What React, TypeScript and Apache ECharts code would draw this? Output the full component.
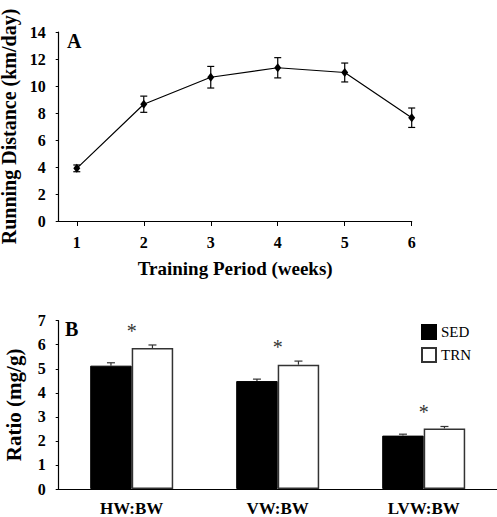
import React, { useEffect, useRef } from "react";
import * as echarts from "echarts";

// Panel A: running distance per training week
const weeks = [1, 2, 3, 4, 5, 6];
const distance = [3.9, 8.65, 10.65, 11.35, 11.0, 7.65];
const distanceErr = [0.25, 0.6, 0.8, 0.75, 0.7, 0.72];
const distanceTicks = [0, 2, 4, 6, 8, 10, 12, 14];

// Panel B: organ weight ratios
const ratioCategories = ["HW:BW", "VW:BW", "LVW:BW"];
const sedValues = [5.13, 4.49, 2.22];
const sedErr = [0.12, 0.08, 0.06];
const trnValues = [5.86, 5.17, 2.52];
const trnErr = [0.13, 0.15, 0.08];
const significant = [true, true, true];

const FONT = "Liberation Serif";
const BAR_W = 41.5;

export default function App() {
  const ref = useRef<HTMLDivElement>(null);

  useEffect(() => {
    if (!ref.current) return;
    const chart = echarts.init(ref.current, undefined, { renderer: "svg" });

    const lineData = weeks.map((w, i) => [w, distance[i]]);
    const lineErrData = weeks.map((w, i) => [w, distance[i], distanceErr[i]]);
    const sedErrData = ratioCategories.map((_, i) => [i, sedValues[i], sedErr[i], -1]);
    const trnErrData = ratioCategories.map((_, i) => [i, trnValues[i], trnErr[i], 1]);
    const starData = ratioCategories
      .map((_, i) => [i, Math.max(trnValues[i] + trnErr[i], sedValues[i] + sedErr[i]), significant[i] ? 1 : 0])
      .filter((d) => d[2] === 1);

    const axisLine = { show: true, lineStyle: { color: "#000", width: 1.2 } };

    const option: any = {
      animation: false,
      backgroundColor: "#fff",
      textStyle: { fontFamily: FONT, color: "#000", fontSize: 16 },
      grid: [
        { left: 58.7, top: 32, right: 85.3, bottom: 296, containLabel: false, outerBoundsMode: "none" },
        { left: 58.7, top: 320.7, right: 0.3, bottom: 28, containLabel: false, outerBoundsMode: "none" },
      ],
      xAxis: [
        {
          type: "value",
          gridIndex: 0,
          min: 0.73,
          max: 6,
          axisLine,
          splitLine: { show: false },
          axisTick: { show: true, length: 5, lineStyle: { color: "#000" }, customValues: weeks },
          axisLabel: {
            color: "#000",
            fontSize: 16,
            fontWeight: "bold",
            fontFamily: FONT,
            margin: 13,
            customValues: weeks,
          },
          name: "Training Period (weeks)",
          nameLocation: "middle",
          nameGap: 38,
          nameTextStyle: { fontSize: 19, fontWeight: "bold", fontFamily: FONT, color: "#000" },
        },
        {
          type: "category",
          gridIndex: 1,
          data: ratioCategories,
          axisLine,
          axisTick: { show: false },
          axisLabel: { color: "#000", fontSize: 17, fontWeight: "bold", fontFamily: FONT, margin: 11 },
        },
      ],
      yAxis: [
        {
          type: "value",
          gridIndex: 0,
          min: distanceTicks[0],
          max: distanceTicks[distanceTicks.length - 1],
          interval: 2,
          axisLine,
          splitLine: { show: false },
          axisTick: { show: true, length: 3, lineStyle: { color: "#000" } },
          axisLabel: { color: "#000", fontSize: 16, fontWeight: "bold", fontFamily: FONT, margin: 13 },
          name: "Running Distance (km/day)",
          nameLocation: "middle",
          nameGap: 34,
          nameTextStyle: { fontSize: 20, fontWeight: "bold", fontFamily: FONT, color: "#000" },
        },
        {
          type: "value",
          gridIndex: 1,
          min: 0,
          max: 7,
          interval: 1,
          axisLine,
          splitLine: { show: false },
          axisTick: { show: true, length: 3, lineStyle: { color: "#000" } },
          axisLabel: { color: "#000", fontSize: 16, fontWeight: "bold", fontFamily: FONT, margin: 13 },
          name: "Ratio (mg/g)",
          nameLocation: "middle",
          nameGap: 34,
          nameTextStyle: { fontSize: 21, fontWeight: "bold", fontFamily: FONT, color: "#000" },
        },
      ],
      legend: {
        data: ["SED", "TRN"],
        orient: "vertical",
        left: 416,
        top: 319,
        itemWidth: 14,
        itemHeight: 14,
        itemGap: 7,
        icon: "rect",
        textStyle: { fontSize: 15, fontFamily: FONT, color: "#000" },
      },
      graphic: [
        { type: "text", left: 67, top: 31, style: { text: "A", fontSize: 20, fontWeight: "bold", fontFamily: FONT, fill: "#000" } },
        { type: "text", left: 65, top: 319, style: { text: "B", fontSize: 20, fontWeight: "bold", fontFamily: FONT, fill: "#000" } },
      ],
      series: [
        {
          type: "line",
          name: "Distance",
          xAxisIndex: 0,
          yAxisIndex: 0,
          data: lineData,
          symbol: "diamond",
          symbolSize: [7, 9],
          itemStyle: { color: "#000" },
          lineStyle: { color: "#000", width: 1.2 },
          z: 3,
        },
        {
          type: "custom",
          name: "DistanceErr",
          xAxisIndex: 0,
          yAxisIndex: 0,
          data: lineErrData,
          z: 2,
          renderItem: (params: any, api: any) => {
            const x = api.value(0);
            const y = api.value(1);
            const e = api.value(2);
            const top = api.coord([x, y + e]);
            const bot = api.coord([x, y - e]);
            const cw = 3.5;
            const st = { stroke: "#000", lineWidth: 1.2 };
            return {
              type: "group",
              children: [
                { type: "line", shape: { x1: top[0], y1: top[1], x2: bot[0], y2: bot[1] }, style: st },
                { type: "line", shape: { x1: top[0] - cw, y1: top[1], x2: top[0] + cw, y2: top[1] }, style: st },
                { type: "line", shape: { x1: bot[0] - cw, y1: bot[1], x2: bot[0] + cw, y2: bot[1] }, style: st },
              ],
            };
          },
        },
        {
          type: "bar",
          name: "SED",
          xAxisIndex: 1,
          yAxisIndex: 1,
          data: sedValues,
          barWidth: BAR_W,
          barGap: "0%",
          itemStyle: { color: "#000", borderColor: "#000", borderWidth: 1 },
        },
        {
          type: "bar",
          name: "TRN",
          xAxisIndex: 1,
          yAxisIndex: 1,
          data: trnValues,
          barWidth: BAR_W,
          barGap: "0%",
          itemStyle: { color: "#fff", borderColor: "#333", borderWidth: 1.5 },
        },
        ...[sedErrData, trnErrData].map((d, k) => ({
          type: "custom",
          name: k === 0 ? "SEDErr" : "TRNErr",
          xAxisIndex: 1,
          yAxisIndex: 1,
          data: d,
          z: 3,
          renderItem: (params: any, api: any) => {
            const c = api.value(0);
            const v = api.value(1);
            const e = api.value(2);
            const side = api.value(3);
            const base = api.coord([c, v]);
            const top = api.coord([c, v + e]);
            const x = base[0] + (side * BAR_W) / 2;
            const cw = 4;
            const st = { stroke: "#333", lineWidth: 1.2 };
            return {
              type: "group",
              children: [
                { type: "line", shape: { x1: x, y1: base[1], x2: x, y2: top[1] }, style: st },
                { type: "line", shape: { x1: x - cw, y1: top[1], x2: x + cw, y2: top[1] }, style: st },
              ],
            };
          },
        })),
        {
          type: "custom",
          name: "Significance",
          xAxisIndex: 1,
          yAxisIndex: 1,
          data: starData,
          z: 4,
          renderItem: (params: any, api: any) => {
            const p = api.coord([api.value(0), api.value(1)]);
            return {
              type: "text",
              x: p[0],
              y: p[1] - 14,
              style: {
                text: "*",
                fontSize: 20,
                fontFamily: FONT,
                fill: "#333",
                align: "center",
                verticalAlign: "middle",
              },
            };
          },
        },
      ],
    };

    chart.setOption(option);
    return () => chart.dispose();
  }, []);

  return (
    <div
      ref={ref}
      style={{ position: "fixed", left: 0, top: 0, width: 497, height: 517, background: "#fff" }}
    />
  );
}
